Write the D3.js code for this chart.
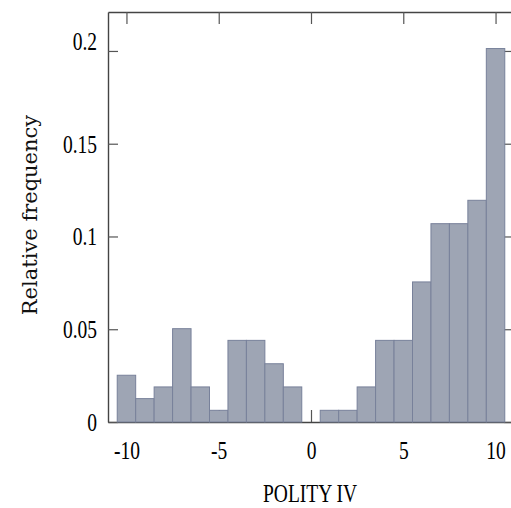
<!DOCTYPE html>
<html>
<head>
<meta charset="utf-8">
<script src="https://cdn.jsdelivr.net/npm/d3@7"></script>
<style>
  body { margin: 0; background: #fff; }
  svg { display: block; }
</style>
</head>
<body>
<svg id="chart" width="511" height="508"></svg>
<script>
"use strict";

// POLITY IV score bins and their relative frequency
var scores = [-10, -9, -8, -7, -6, -5, -4, -3, -2, -1, 0, 1, 2, 3, 4, 5, 6, 7, 8, 9, 10]
var freqs = [0.0252, 0.0126, 0.0189, 0.0503, 0.0189, 0.0063, 0.0440, 0.0440, 0.0314, 0.0189, 0,
             0.0063, 0.0063, 0.0189, 0.0440, 0.0440, 0.0755, 0.1069, 0.1069, 0.1195, 0.2013]

var xTicks = [-10, -5, 0, 5, 10]
var xTickLabels = ["-10", "-5", "0", "5", "10"]
var yTicks = [0, 0.05, 0.1, 0.15, 0.2]
var yTickLabels = ["0", "0.05", "0.1", "0.15", "0.2"]

var svg = d3.select("#chart")
var margin = {top: 12, left: 108}
var width = 406, height = 410
var squish = 0.78   // the original picture is narrowed horizontally

var x = d3.scaleLinear().domain([-11, 11]).range([0, width])
var y = d3.scaleLinear().domain([0, 0.221]).range([height, 0])

var g = svg.append("g")
    .attr("transform", "translate(" + margin.left + "," + margin.top + ")")

function styleAxis(sel) {
    sel.select(".domain").attr("stroke", "#444").attr("stroke-width", 1.4)
    sel.selectAll(".tick line").attr("stroke", "#555").attr("stroke-width", 1.2)
}

var xBottom = g.append("g")
    .attr("transform", "translate(0," + height + ")")
    .call(d3.axisBottom(x).tickValues(xTicks).tickSize(-12).tickSizeOuter(0)
        .tickFormat((d, i) => xTickLabels[i]))
    .call(styleAxis)

xBottom.selectAll("text")
    .attr("y", 37).attr("dy", 0)
    .attr("x", 0)
    .attr("transform", "scale(" + squish + ",1)")
    .attr("font-family", "'Liberation Serif', 'Times New Roman', serif")
    .attr("font-size", 25)
    .attr("fill", "#000")

g.append("g")
    .call(d3.axisTop(x).tickValues(xTicks).tickSize(-12).tickSizeOuter(0).tickFormat(""))
    .call(styleAxis)

var yLeft = g.append("g")
    .call(d3.axisLeft(y).tickValues(yTicks).tickSize(-10).tickSizeOuter(0)
        .tickFormat((d, i) => yTickLabels[i]))
    .call(styleAxis)

yLeft.selectAll("text")
    .attr("x", -11 / squish)
    .attr("dy", (d, i) => i === yTicks.length - 1 ? "-0.06em" : "0.34em")
    .attr("transform", "scale(" + squish + ",1)")
    .attr("font-family", "'Liberation Serif', 'Times New Roman', serif")
    .attr("font-size", 25)
    .attr("fill", "#000")

g.append("g")
    .attr("transform", "translate(" + width + ",0)")
    .call(d3.axisRight(y).tickValues(yTicks).tickSize(-10).tickSizeOuter(0).tickFormat(""))
    .call(styleAxis)

// bars, one per integer score, drawn over the ticks
var bins = scores.map((s, i) => ({score: s, freq: freqs[i]})).filter(d => d.freq > 0)

g.selectAll("rect.bar")
    .data(bins)
    .enter().append("rect")
    .attr("class", "bar")
    .attr("x", d => x(d.score - 0.5))
    .attr("width", d => x(d.score + 0.5) - x(d.score - 0.5))
    .attr("y", d => y(d.freq))
    .attr("height", d => y(0) - y(d.freq))
    .attr("fill", "#9ea5b4")
    .attr("stroke", "#78819a")
    .attr("stroke-width", 1)

// axis titles
svg.append("text")
    .attr("transform", "translate(310,502) scale(" + squish + ",1)")
    .attr("text-anchor", "middle")
    .attr("font-family", "'Liberation Serif', 'Times New Roman', serif")
    .attr("font-size", 25)
    .attr("fill", "#000")
    .text("POLITY IV")

svg.append("text")
    .attr("transform", "translate(37,215) rotate(-90)")
    .attr("text-anchor", "middle")
    .attr("font-family", "'DejaVu Serif', serif")
    .attr("font-size", 21)
    .attr("fill", "#111")
    .text("Relative frequency")
</script>
</body>
</html>
